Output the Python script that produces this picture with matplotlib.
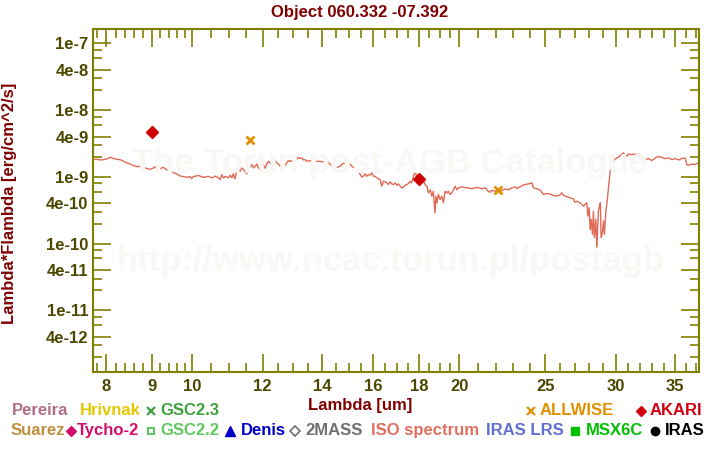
import matplotlib
matplotlib.use('Agg')
import matplotlib.pyplot as plt
from matplotlib.ticker import FixedLocator, FixedFormatter, NullFormatter
from matplotlib.lines import Line2D

plt.rcParams['font.family'] = ['Liberation Sans', 'DejaVu Sans']

# ---------------- data ----------------
title = "Object 060.332 -07.392"
xlabel = "Lambda [um]"
ylabel = "Lambda*Flambda [erg/cm^2/s]"

# ISO spectrum: wavelength [um], flux in units of 1e-10 erg/cm^2/s
iso_wl = [7.70, 7.80, 7.90, 8.01, 8.08, 8.15, 8.22, 8.29, 8.36, 8.43, 8.51, 8.58, 8.66, 8.73,
          8.81, 8.88, 8.96, 9.04, 9.08, 9.12, 9.16, 9.20, 9.27, 9.36, 9.44, 9.52, 9.60, 9.69,
          9.77, 9.86, 9.94, 9.98, 10.03,
          10.07, 10.16, 10.25, 10.33, 10.42, 10.52, 10.61, 10.70, 10.75, 10.79, 10.84, 10.89,
          10.98, 11.03, 11.08, 11.12, 11.17, 11.22, 11.27, 11.32, 11.37, 11.42, 11.47, 11.52,
          11.57, 11.62, 11.67, 11.72, 11.77, 11.82, 11.87, 11.92, 11.97, 12.02, 12.08, 12.13,
          12.18, 12.24, 12.29, 12.34, 12.40, 12.45, 12.50, 12.56, 12.61, 12.67, 12.72, 12.78,
          12.83, 12.89, 12.94, 13.00, 13.06, 13.11, 13.17, 13.23, 13.29, 13.34, 13.40,
          13.46, 13.57, 13.69, 13.81, 13.93, 14.05, 14.18, 14.30, 14.42, 14.55, 14.67, 14.74,
          14.80, 14.93, 14.99, 15.06, 15.13, 15.19, 15.32, 15.39, 15.46, 15.53, 15.59, 15.66,
          15.73, 15.79, 15.86, 15.93, 16.00, 16.07, 16.14, 16.28, 16.35, 16.42, 16.57, 16.64,
          16.71, 16.78, 16.85, 16.93, 17.00, 17.07, 17.15, 17.22, 17.30, 17.37,
          17.45, 17.52, 17.60, 17.67, 17.75, 17.83, 17.91, 17.98, 18.06, 18.14, 18.22, 18.30,
          18.38, 18.45, 18.54, 18.62, 18.69, 18.77, 18.82, 18.87, 18.94, 19.02, 19.11, 19.19,
          19.27, 19.36, 19.44, 19.52, 19.61, 19.69, 19.78, 19.87, 19.95, 20.13, 20.30, 20.47,
          20.65, 20.83, 21.01, 21.20, 21.38, 21.56, 21.66, 21.75, 21.94, 22.13, 22.33, 22.52,
          22.71, 22.92, 23.11,
          23.21, 23.41, 23.62, 23.82, 24.03, 24.14, 24.24, 24.45, 24.66, 24.87, 25.09, 25.31,
          25.53, 25.75, 25.98, 26.09, 26.20, 26.43, 26.66, 26.89, 27.00, 27.13, 27.36, 27.48,
          27.59,
          27.72, 27.84, 27.91, 28.01, 28.08, 28.15, 28.25, 28.32, 28.39, 28.50, 28.57, 28.65,
          28.69, 28.77, 28.84, 28.89, 28.99, 29.07, 29.14, 29.25, 29.32, 29.40, 29.50, 29.58,
          29.65, 29.75, 29.91, 30.09, 30.22, 30.49, 30.61, 30.75, 30.89, 31.02, 31.29, 31.56,
          31.70, 31.83, 32.11, 32.39, 32.67, 32.96, 33.24, 33.53, 33.82, 34.11, 34.41, 34.71,
          35.01, 35.31, 35.63, 35.93, 36.09, 36.24, 36.56, 36.88, 37.20]
iso_flux = [18.1, 18.3, 17.9, 18.6, 19.6, 18.8, 18.3, 18.1, 17.1, 16.2, 15.6, 14.7, 14.2, 14.4,
            14.1, 13.3, 13.0, 13.6, 14.2, 12.9, 12.1, 13.3, 13.9, 12.7, 12.1, 11.5, 11.1, 10.3,
            10.1, 9.86, 10.1, 9.34, 10.2,
            10.2, 10.5, 10.0, 9.86, 10.2, 9.66, 10.3, 9.66, 9.11, 10.8, 9.66, 10.2,
            9.66, 10.6, 9.66, 11.1, 9.34, 12.4, 13.6, 12.1, 13.6, 12.9, 11.9, 11.1,
            13.6, 13.9, 15.3, 13.6, 14.4, 15.6, 13.6, 12.9, 14.4, 15.3, 13.3, 15.6,
            17.1, 16.2, 16.7, 16.2, 17.1, 16.2, 15.6, 14.4, 15.3, 14.4, 14.9, 16.2,
            17.5, 17.1, 17.5, 16.7, 18.1, 18.3, 19.6, 18.8, 19.2, 17.9, 18.1,
            17.1, 17.5, 16.7, 17.1, 17.1, 16.7, 17.5, 15.3, 14.4, 13.9, 14.4, 15.3,
            16.0, 15.6, 14.9, 15.6, 14.4, 13.6, 12.9, 11.9, 10.8, 9.86, 10.3, 11.1,
            10.2, 10.8, 10.6, 11.5, 10.2, 10.2, 9.66, 9.11, 7.24, 8.60, 8.14, 7.67,
            8.42, 7.86, 7.67, 8.14, 7.49, 7.86, 7.24, 6.85, 6.99, 7.49,
            7.67, 7.95, 8.60, 8.14, 10.2, 11.7, 10.2, 10.1, 9.66, 8.14, 8.60, 7.67,
            7.24, 5.77, 6.39, 5.14, 6.09, 2.90, 5.14, 4.09, 5.45, 4.58, 5.14, 4.09,
            6.09, 5.77, 6.09, 5.45, 5.77, 6.39, 7.24, 6.39, 6.85, 7.09, 6.92, 6.85,
            6.62, 6.85, 6.92, 6.62, 6.85, 6.09, 5.88, 6.31, 6.09, 6.31, 6.18, 6.62,
            6.39, 6.85, 7.09,
            6.69, 7.09, 7.60, 7.76, 7.95, 8.14, 6.85, 6.62, 6.31, 5.45, 5.65, 5.51,
            5.28, 5.14, 5.40, 5.77, 5.28, 5.03, 4.86, 4.69, 4.18, 4.32, 4.09, 3.86,
            3.64,
            3.86, 4.09, 2.58, 3.44, 1.63, 2.31, 1.38, 3.07, 1.23, 2.31, 0.82, 1.94,
            3.07, 3.64, 4.09, 1.23, 1.46, 2.18, 1.38, 3.07, 3.86, 5.45, 8.60, 12.1,
            14.4, 15.6, 18.1, 19.2, 19.6, 22.0, 22.8, 21.5, 20.3, 22.0, 21.5, 22.0,
            21.0, 22.0, 19.2, 18.1, 18.8, 17.5, 19.2, 20.3, 19.6, 18.8, 19.2, 18.1,
            18.8, 17.9, 18.8, 19.2, 15.3, 14.9, 15.6, 15.3, 16.2]
iso_scale = 1e-10

akari_wl = [9.0, 18.0]
akari_flux = [4.7e-9, 9.3e-10]
allwise_wl = [11.6, 22.1]
allwise_flux = [3.56e-9, 6.3e-10]

xlim = (7.72, 37.25)
ylim = (1.21e-12, 1.62e-7)

x_major = [8, 9, 10, 12, 14, 16, 18, 20, 25, 30, 35]
x_labels = ["8", "9", "10", "12", "14", "16", "18", "20", "25", "30", "35"]
x_minor = [7.8, 8.2, 8.4, 8.6, 8.8, 9.2, 9.4, 9.6, 9.8, 10.5, 11, 11.5, 12.5, 13, 13.5,
           14.5, 15, 15.5, 16.5, 17, 17.5, 18.5, 19, 19.5, 21, 22, 23, 24, 26, 27, 28, 29,
           31, 32, 33, 34, 36, 37]
y_major = [1e-7, 4e-8, 1e-8, 4e-9, 1e-9, 4e-10, 1e-10, 4e-11, 1e-11, 4e-12]
y_labels = ["1e-7", "4e-8", "1e-8", "4e-9", "1e-9", "4e-10", "1e-10", "4e-11", "1e-11", "4e-12"]
y_minor = [m * 10.0 ** e for e in range(-12, -7) for m in (2, 3, 6, 8)]

# legend entries: (label, colour, marker, x_marker_px, x_text_px, row)
legend_entries = [
    ("Pereira", "#b07088", None, None, 11.7, 0),
    ("Hrivnak", "#e6c800", None, None, 80, 0),
    ("GSC2.3", "#40a040", "x", 150.7, 160.7, 0),
    ("ALLWISE", "#e09000", "x", 530.7, 540, 0),
    ("AKARI", "#d00010", "D", 641, 650, 0),
    ("Suarez", "#c09040", None, None, 10.7, 1),
    ("Tycho-2", "#d0106a", "D", 70.7, 76.7, 1),
    ("GSC2.2", "#60c860", "s_open", 150.7, 160.7, 1),
    ("Denis", "#0000c8", "^", 230, 240.7, 1),
    ("2MASS", "#707070", "D_open", 295, 305, 1),
    ("ISO spectrum", "#e07060", None, None, 370.7, 1),
    ("IRAS LRS", "#6070d0", None, None, 485.7, 1),
    ("MSX6C", "#00c000", "s", 575.3, 585.7, 1),
    ("IRAS", "#000000", "o", 655, 665, 1),
]

# ---------------- styling ----------------
W, H = 720, 450
olive = "#808000"
tickcol = "#4d4800"
darkred = "#800000"
wm_col = "#faf8f5"

fig = plt.figure(figsize=(W / 100, H / 100), dpi=100)
ax = fig.add_axes([92.7 / W, 1 - 371.7 / H, (699 - 92.7) / W, (371.7 - 29.3) / H])
ax.set_xscale('log')
ax.set_yscale('log')
ax.set_xlim(*xlim)
ax.set_ylim(*ylim)

# watermark
fig.text(390 / W, 1 - 163 / H, "The Torun post-AGB Catalogue", fontsize=25, weight='bold',
         color=wm_col, ha='center', va='center', zorder=0)
fig.text(391 / W, 1 - 262 / H, "http://www.ncac.torun.pl/postagb", fontsize=25, weight='bold',
         color=wm_col, ha='center', va='center', zorder=0)
ax.patch.set_alpha(0)

ax.plot(iso_wl, [f * iso_scale for f in iso_flux], color="#e06a55", lw=1.0, zorder=2)
ax.plot(akari_wl, akari_flux, ls='none', marker='D', ms=6, color="#d00000", zorder=3)
ax.plot(allwise_wl, allwise_flux, ls='none', marker='x', ms=6, mew=2, color="#e09000", zorder=3)

for s in ax.spines.values():
    s.set_color(olive)
    s.set_linewidth(1.5)

ax.xaxis.set_major_locator(FixedLocator(x_major))
ax.xaxis.set_major_formatter(FixedFormatter(x_labels))
ax.xaxis.set_minor_locator(FixedLocator(x_minor))
ax.xaxis.set_minor_formatter(NullFormatter())
ax.yaxis.set_major_locator(FixedLocator(y_major))
ax.yaxis.set_major_formatter(FixedFormatter(y_labels))
ax.yaxis.set_minor_locator(FixedLocator(y_minor))
ax.yaxis.set_minor_formatter(NullFormatter())

ax.tick_params(which='both', direction='in', top=True, right=True, color=olive, width=1.2)
ax.tick_params(which='major', length=13)
ax.tick_params(which='minor', length=6.5)
ax.tick_params(axis='x', which='major', pad=5)
ax.tick_params(axis='y', which='major', pad=3)
for lab in ax.get_xticklabels() + ax.get_yticklabels():
    lab.set_fontsize(12)
    lab.set_fontweight('bold')
    lab.set_color(tickcol)

fig.text(360 / W, 1 - 17 / H, title, fontsize=12, weight='bold', color=darkred,
         ha='center', va='baseline')
fig.text(360 / W, 1 - 410 / H, xlabel, fontsize=12, weight='bold', color=darkred,
         ha='center', va='baseline')
fig.text(10 / W, 1 - 203 / H, ylabel, fontsize=12, weight='bold', color=darkred,
         ha='center', va='center', rotation=90)

row_base = [415, 435]
row_mark = [410.5, 430.5]
for label, col, mk, xm, xt, row in legend_entries:
    fig.text(xt / W, 1 - row_base[row] / H, label, fontsize=12, weight='bold', color=col,
             ha='left', va='baseline')
    if mk is None:
        continue
    kw = dict(ls='none', color=col, transform=fig.transFigure, clip_on=False)
    if mk == 'x':
        kw.update(marker='x', ms=6, mew=1.6)
    elif mk == 'D':
        kw.update(marker='D', ms=5.5)
    elif mk == 'D_open':
        kw.update(marker='D', ms=5, mfc='white', mew=1.2)
    elif mk == 's_open':
        kw.update(marker='s', ms=5, mfc='white', mew=1.5)
    elif mk == 's':
        kw.update(marker='s', ms=6)
    elif mk == '^':
        kw.update(marker='^', ms=6.5)
    elif mk == 'o':
        kw.update(marker='o', ms=6)
    fig.add_artist(Line2D([xm / W], [1 - row_mark[row] / H], **kw))

fig.savefig("out.png", dpi=100)
